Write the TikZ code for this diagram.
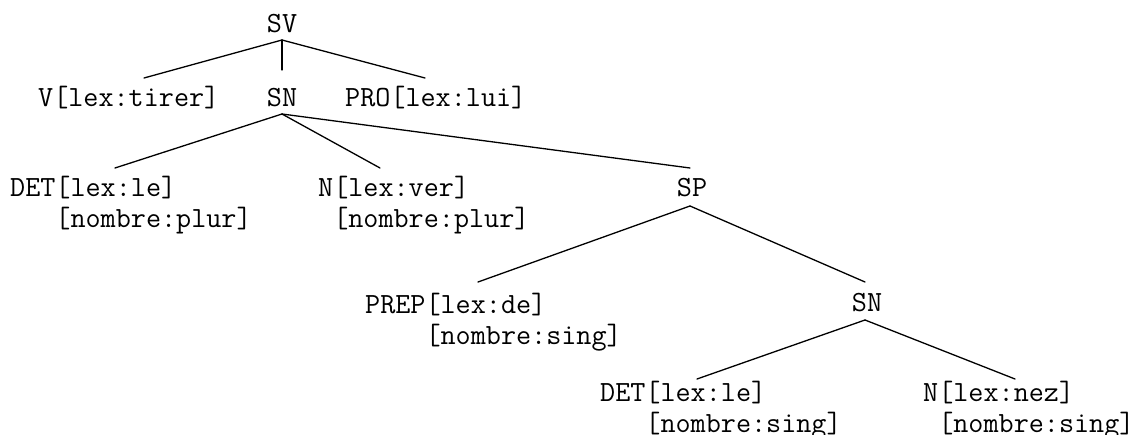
\documentclass[tikz,border=0pt]{standalone}
\usepackage{fontspec}
\newcommand\lbfont{\ttfamily\fontsize{29.3}{31}\selectfont}
\newcommand\twol[2]{\begin{tabular}[t]{@{}l@{}}#1\\#2\end{tabular}}
\begin{document}
\begin{tikzpicture}[x=1pt,y=-1pt,
  lbl/.style={anchor=base west, inner sep=0pt, font=\lbfont},
  ctr/.style={anchor=base, inner sep=0pt, font=\lbfont},
  edge/.style={line width=1.3pt, line cap=round}]
\fill[white] (0,0) rectangle (1147,435);
\useasboundingbox (0,0) rectangle (1147,435);
% labels
\node[ctr] (SV) at (282,33) {SV};
\node[lbl] (V) at (38,107) {V[lex:tirer]};
\node[ctr] (SN) at (282,107) {SN};
\node[lbl] (PRO) at (345,107) {PRO[lex:lui]};
\node[lbl] (DET) at (10,197) {\twol{DET[lex:le]}{\phantom{xxx}[nombre:plur]}};
\node[lbl] (N) at (318,197) {\twol{N[lex:ver]}{\phantom{x}[nombre:plur]}};
\node[ctr] (SP) at (692,197) {SP};
\node[lbl] (PREP) at (365,313) {\twol{PREP[lex:de]}{\phantom{xxxx}[nombre:sing]}};
\node[ctr] (SN2) at (867,312) {SN};
\node[lbl] (DET2) at (600,401) {\twol{DET[lex:le]}{\phantom{xxx}[nombre:sing]}};
\node[lbl] (N2) at (923,401) {\twol{N[lex:nez]}{\phantom{x}[nombre:sing]}};
% connector ends
\coordinate (sv-b) at (282,40);
\coordinate (v-t) at (144,78);
\coordinate (sn-t) at (282,70);
\coordinate (pro-t) at (425,78);
\coordinate (sn-b) at (282,114);
\coordinate (det-t) at (115,168);
\coordinate (n-t) at (380,168);
\coordinate (sp-t) at (690,168);
\coordinate (sp-b) at (690,206);
\coordinate (prep-t) at (478,282);
\coordinate (sn2-t) at (865,282);
\coordinate (sn2-b) at (865,320);
\coordinate (det2-t) at (697,379);
\coordinate (n2-t) at (1015,379);
% connectors
\draw[edge] (sv-b) -- (v-t);
\draw[edge] (sv-b) -- (sn-t);
\draw[edge] (sv-b) -- (pro-t);
\draw[edge] (sn-b) -- (det-t);
\draw[edge] (sn-b) -- (n-t);
\draw[edge] (sn-b) -- (sp-t);
\draw[edge] (sp-b) -- (prep-t);
\draw[edge] (sp-b) -- (sn2-t);
\draw[edge] (sn2-b) -- (det2-t);
\draw[edge] (sn2-b) -- (n2-t);
\end{tikzpicture}
\end{document}
